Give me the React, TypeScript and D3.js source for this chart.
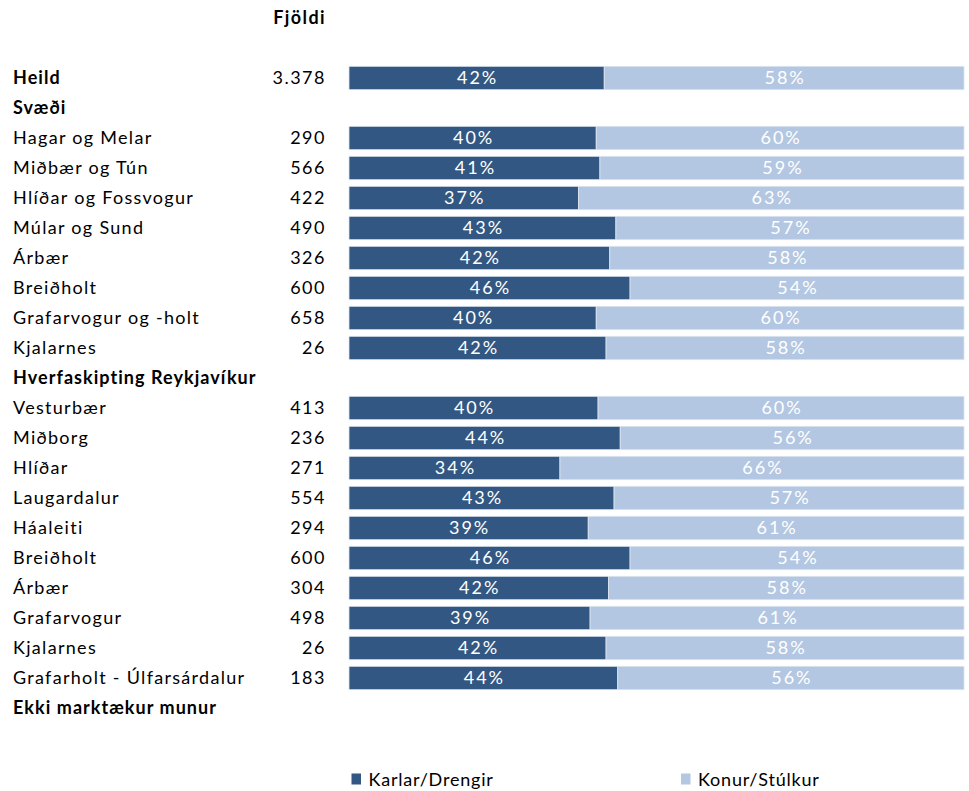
import React from "react";
import * as d3 from "d3";

const labels = [
  "Heild", "Svæði", "Hagar og Melar", "Miðbær og Tún", "Hlíðar og Fossvogur", "Múlar og Sund",
  "Árbær", "Breiðholt", "Grafarvogur og -holt", "Kjalarnes", "Hverfaskipting Reykjavíkur",
  "Vesturbær", "Miðborg", "Hlíðar", "Laugardalur", "Háaleiti", "Breiðholt", "Árbær",
  "Grafarvogur", "Kjalarnes", "Grafarholt - Úlfarsárdalur", "Ekki marktækur munur",
];
const headers = [true, true, false, false, false, false, false, false, false, false, true,
  false, false, false, false, false, false, false, false, false, false, true];
const counts = ["3.378", "", "290", "566", "422", "490", "326", "600", "658", "26", "",
  "413", "236", "271", "554", "294", "600", "304", "498", "26", "183", ""];
const males = [41.5, null, 40.2, 40.8, 37.3, 43.4, 42.4, 45.7, 40.2, 41.8, null,
  40.5, 44.1, 34.3, 43.1, 38.9, 45.7, 42.2, 39.2, 41.8, 43.7, null];
const maleLabels = ["42%", "", "40%", "41%", "37%", "43%", "42%", "46%", "40%", "42%", "",
  "40%", "44%", "34%", "43%", "39%", "46%", "42%", "39%", "42%", "44%", ""];
const femaleLabels = ["58%", "", "60%", "59%", "63%", "57%", "58%", "54%", "60%", "58%", "",
  "60%", "56%", "66%", "57%", "61%", "54%", "58%", "61%", "58%", "56%", ""];
const seriesNames = ["Karlar/Drengir", "Konur/Stúlkur"];
const colors = ["#335783", "#b3c7e2"];

const W = 969, H = 791;
const FONT = "Lato, 'Open Sans', sans-serif";

export default function App() {
  const x = d3.scaleLinear().domain([0, 100]).range([349, 964]);
  const y = d3.scaleBand<number>().domain(d3.range(labels.length)).range([63, 723]).paddingInner(0.22).paddingOuter(0.11);
  const rowC = (i: number) => (y(i) as number) + y.bandwidth() / 2;
  return (
    <svg width={W} height={H} style={{ position: "absolute", left: 0, top: 0 }} fontFamily={FONT}>
      <defs>
        <clipPath id="lab"><rect x={0} y={0} width={257} height={H} /></clipPath>
      </defs>
      <text x={326} y={18} dy="0.35em" textAnchor="end" fontWeight="bold" fontSize={18} letterSpacing={1.4}>Fjöldi</text>
      {labels.map((l, i) => (
        <g key={i}>
          <text x={13} y={rowC(i)} dy="0.35em" fontSize={18} letterSpacing={headers[i] ? 1.05 : 1.3} fontWeight={headers[i] ? "bold" : "normal"} clipPath="url(#lab)">{l}</text>
          {counts[i] && <text x={326} y={rowC(i)} dy="0.35em" fontSize={18} letterSpacing={1.5} textAnchor="end">{counts[i]}</text>}
          {males[i] != null && (
            <g>
              <rect x={x(0)} y={y(i)} width={x(males[i] as number) - x(0)} height={y.bandwidth()} fill={colors[0]} stroke="#dde5ef" strokeWidth={0.8} />
              <rect x={x(males[i] as number)} y={y(i)} width={x(100) - x(males[i] as number)} height={y.bandwidth()} fill={colors[1]} stroke="#dde5ef" strokeWidth={0.8} />
              <text x={(x(0) + x(males[i] as number)) / 2 + 1} y={rowC(i)} dy="0.35em" textAnchor="middle" fill="#fff" fontSize={18} letterSpacing={2}>{maleLabels[i]}</text>
              <text x={(x(males[i] as number) + x(100)) / 2 + 1} y={rowC(i)} dy="0.35em" textAnchor="middle" fill="#fff" fontSize={18} letterSpacing={2}>{femaleLabels[i]}</text>
            </g>
          )}
        </g>
      ))}
      {seriesNames.map((s, k) => {
        const lx = k === 0 ? 351.5 : 681;
        return (
          <g key={s}>
            <rect x={lx} y={773.5} width={9.5} height={11} fill={colors[k]} />
            <text x={lx + 17} y={786} fontSize={18} letterSpacing={0.8}>{s}</text>
          </g>
        );
      })}
    </svg>
  );
}
